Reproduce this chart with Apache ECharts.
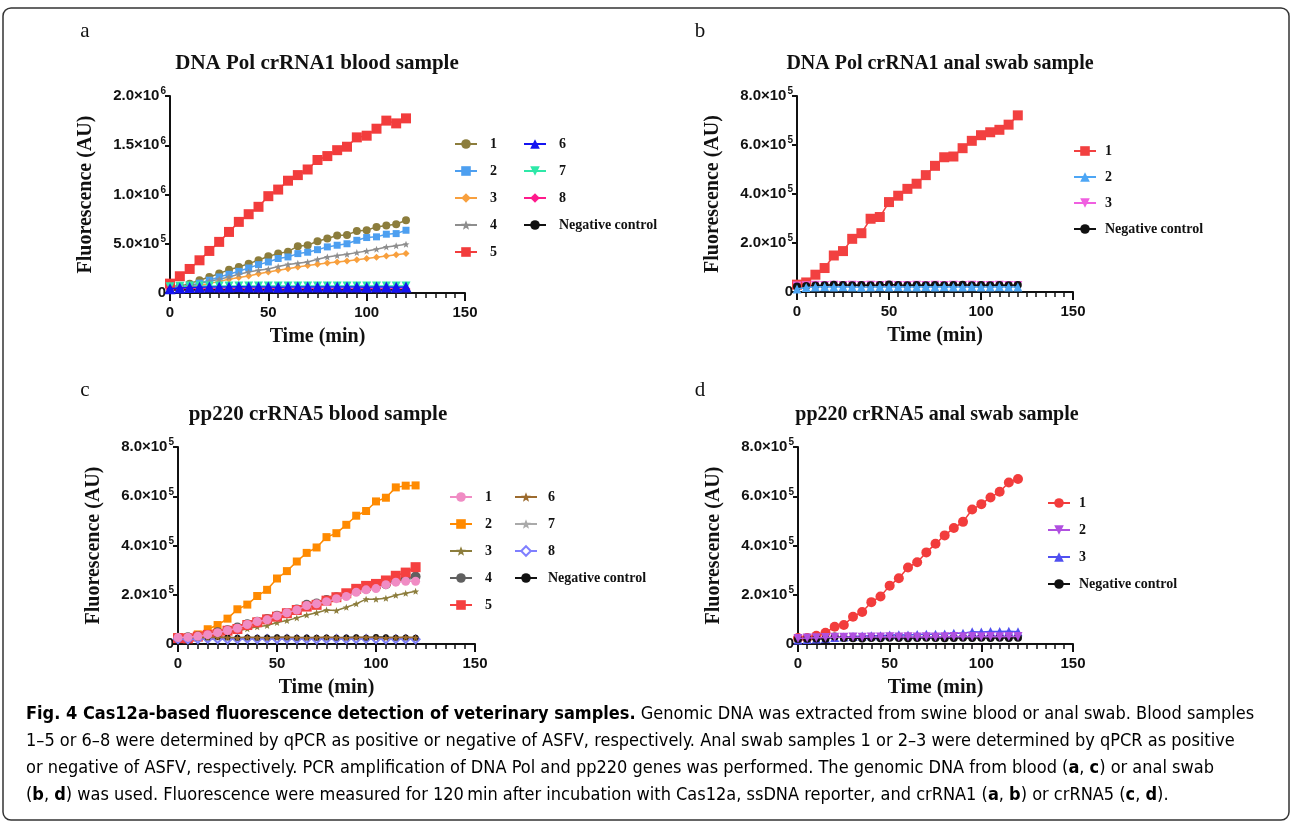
<!DOCTYPE html>
<html>
<head>
<meta charset="utf-8">
<script src="https://cdn.jsdelivr.net/npm/echarts@6/dist/echarts.min.js"></script>
<style>
  html, body { margin: 0; padding: 0; background: #fff; }
  #fig { width: 1292px; height: 828px; }
</style>
</head>
<body>
<div id="fig"></div>
<script>
// time points (min)
const timeMin = [0, 5, 10, 15, 20, 25, 30, 35, 40, 45, 50, 55, 60, 65, 70, 75, 80, 85, 90, 95, 100, 105, 110, 115, 120];

// panel a: DNA Pol crRNA1 blood sample
const aNames = ['1', '2', '3', '4', '5', '6', '7', '8', 'Negative control'];
const a1 = [68000, 70000, 95000, 130000, 163000, 197000, 237000, 264000, 298000, 332000, 373000, 400000, 420000, 475000, 485000, 525000, 553000, 583000, 590000, 630000, 637000, 671000, 685000, 698000, 739000];
const a2 = [44000, 60000, 78000, 100000, 130000, 163000, 190000, 220000, 254000, 288000, 315000, 350000, 366000, 400000, 414000, 440000, 468000, 485000, 500000, 535000, 563000, 570000, 597000, 603000, 637000];
const a3 = [27000, 44000, 60000, 78000, 95000, 118000, 140000, 157000, 173000, 195000, 214000, 230000, 247000, 265000, 280000, 292000, 305000, 315000, 325000, 338000, 350000, 362000, 376000, 388000, 400000];
const a4 = [34000, 52000, 70000, 95000, 119000, 140000, 163000, 190000, 214000, 230000, 244000, 268000, 290000, 302000, 315000, 342000, 366000, 380000, 393000, 410000, 427000, 445000, 468000, 480000, 495000];
const a5 = [95000, 170000, 244000, 332000, 427000, 519000, 620000, 722000, 800000, 875000, 983000, 1050000, 1140000, 1197000, 1254000, 1350000, 1390000, 1450000, 1485000, 1580000, 1597000, 1668000, 1750000, 1722000, 1773000];
const a6 = [42000, 50000, 55000, 58000, 60000, 62000, 61000, 63000, 60000, 61000, 60000, 59000, 60000, 62000, 61000, 60000, 62000, 60000, 61000, 60000, 59000, 60000, 60000, 59000, 60000];
const a7 = [64000, 68000, 70000, 71000, 72000, 72000, 71000, 72000, 71000, 70000, 72000, 71000, 70000, 71000, 72000, 71000, 70000, 71000, 72000, 70000, 71000, 70000, 71000, 70000, 71000];
const a8 = [38000, 40000, 42000, 41000, 42000, 40000, 41000, 42000, 41000, 40000, 42000, 41000, 40000, 41000, 42000, 41000, 40000, 41000, 40000, 41000, 42000, 40000, 41000, 40000, 41000];
const aNeg = [30000, 31000, 32000, 31000, 30000, 32000, 31000, 30000, 31000, 32000, 31000, 30000, 31000, 30000, 32000, 31000, 30000, 31000, 32000, 30000, 31000, 30000, 31000, 32000, 31000];

// panel b: DNA Pol crRNA1 anal swab sample
const bNames = ['1', '2', '3', 'Negative control'];
const b1 = [30000, 39000, 70600, 97800, 149000, 167000, 217000, 240000, 299000, 306000, 367000, 393000, 421000, 442000, 477000, 515000, 550000, 553000, 587000, 617000, 640000, 652000, 662000, 683000, 721000];
const b2 = [12000, 18000, 20000, 21000, 20000, 21000, 20000, 19000, 20000, 21000, 20000, 21000, 20000, 20000, 21000, 20000, 21000, 20000, 20000, 21000, 20000, 20000, 21000, 20000, 20000];
const b3 = [24000, 26000, 28000, 27000, 28000, 27000, 28000, 27000, 28000, 27000, 28000, 27000, 27000, 28000, 27000, 28000, 27000, 28000, 27000, 28000, 27000, 27000, 28000, 27000, 27000];
const bNeg = [22000, 25000, 27000, 28000, 30000, 29000, 28000, 29000, 28000, 29000, 31000, 29000, 28000, 29000, 28000, 29000, 28000, 29000, 30000, 28000, 29000, 28000, 29000, 28000, 29000];

// panel c: pp220 crRNA5 blood sample
const cNames = ['1', '2', '3', '4', '5', '6', '7', '8', 'Negative control'];
const c1 = [26000, 27000, 31000, 38000, 46000, 55000, 64000, 79000, 91000, 98000, 114000, 127000, 138000, 156000, 163000, 172000, 184000, 193000, 210000, 220000, 225000, 241000, 251000, 255000, 255000];
const c2 = [27000, 26000, 39000, 60000, 77000, 103000, 141000, 160000, 195000, 220000, 266000, 296000, 335000, 370000, 392000, 434000, 450000, 484000, 521000, 540000, 579000, 594000, 636000, 643000, 644000];
const c3 = [24000, 25000, 28000, 33000, 39000, 46000, 53000, 62000, 70000, 75000, 87000, 95000, 106000, 118000, 127000, 138000, 136000, 149000, 163000, 182000, 182000, 186000, 198000, 206000, 214000];
const c4 = [25000, 27000, 31000, 37000, 48000, 56000, 67000, 80000, 90000, 102000, 115000, 126000, 140000, 159000, 164000, 179000, 190000, 200000, 218000, 225000, 233000, 243000, 260000, 266000, 274000];
const c5 = [24000, 23000, 30000, 37000, 41000, 54000, 61000, 77000, 88000, 100000, 111000, 125000, 138000, 152000, 159000, 176000, 190000, 206000, 224000, 236000, 244000, 258000, 277000, 290000, 312000];
const c6 = [26000, 27000, 25000, 26000, 27000, 26000, 25000, 27000, 26000, 25000, 26000, 27000, 26000, 25000, 26000, 27000, 26000, 25000, 26000, 27000, 26000, 25000, 26000, 27000, 26000];
const c7 = [22000, 23000, 22000, 21000, 22000, 23000, 22000, 23000, 22000, 21000, 22000, 23000, 22000, 22000, 21000, 22000, 23000, 22000, 22000, 21000, 22000, 23000, 22000, 22000, 21000];
const c8 = [20000, 19000, 20000, 21000, 20000, 19000, 20000, 21000, 20000, 21000, 20000, 21000, 20000, 20000, 19000, 20000, 21000, 20000, 20000, 21000, 20000, 19000, 20000, 20000, 19000];
const cNeg = [25000, 26000, 25000, 26000, 27000, 26000, 25000, 26000, 25000, 26000, 27000, 26000, 25000, 26000, 25000, 26000, 25000, 26000, 27000, 25000, 28000, 27000, 25000, 26000, 25000];

// panel d: pp220 crRNA5 anal swab sample
const dNames = ['1', '2', '3', 'Negative control'];
const d1 = [24000, 24000, 33000, 46000, 70000, 77000, 111000, 130000, 170000, 193000, 237000, 267000, 311000, 332000, 372000, 407000, 441000, 471000, 496000, 546000, 568000, 595000, 618000, 656000, 670000];
const d2 = [22000, 24000, 25000, 26000, 27000, 27000, 28000, 27000, 28000, 28000, 29000, 28000, 29000, 28000, 29000, 28000, 29000, 30000, 29000, 30000, 29000, 30000, 29000, 30000, 30000];
const d3 = [16000, 18000, 20000, 22000, 26000, 28000, 30000, 32000, 34000, 34000, 37000, 38000, 37000, 39000, 40000, 40000, 41000, 44000, 44000, 50000, 49000, 51000, 51000, 52000, 50000];
const dNeg = [20000, 21000, 22000, 21000, 30000, 24000, 23000, 22000, 24000, 23000, 25000, 24000, 23000, 24000, 25000, 24000, 23000, 24000, 25000, 24000, 25000, 24000, 25000, 24000, 25000];

const serif = '"Liberation Serif", "Times New Roman", serif';
const sans = '"Liberation Sans", Arial, sans-serif';
const narrow = '"Liberation Sans Narrow", "DejaVu Sans Condensed", sans-serif';
const star = 'path://M0,-10 L2.6,-3.2 L9.5,-3.1 L4.1,1.3 L5.9,8.1 L0,4.1 L-5.9,8.1 L-4.1,1.3 L-9.5,-3.1 L-2.6,-3.2 Z';

const myChart = echarts.init(document.getElementById('fig'));

function sciLabel(v) {
  if (v === 0) return '{m|0}';
  const e = Math.floor(Math.log10(v) + 1e-9);
  const m = v / Math.pow(10, e);
  return '{m|' + m.toFixed(1) + '×10}{s|' + e + '}';
}

// [left, top, width, height] in px for each panel
const grids = [
  [170, 96, 295, 197],
  [797, 96, 276, 196],
  [178, 447, 297, 197],
  [798, 447, 275, 197]
];
const yMax = [2000000, 800000, 800000, 800000];
const yStep = [500000, 200000, 200000, 200000];

function xAxisFor(i) {
  return {
    type: 'value', gridIndex: i, min: 0, max: 150, interval: 50,
    name: 'Time (min)', nameLocation: 'middle', nameGap: 34,
    nameTextStyle: { fontFamily: serif, fontWeight: 'bold', fontSize: 20, color: '#111' },
    axisLine: { lineStyle: { color: '#111', width: 2 } },
    axisTick: { length: 8, lineStyle: { color: '#111', width: 2 } },
    minorTick: { show: true, splitNumber: 10, length: 5, lineStyle: { color: '#111', width: 1.5 } },
    axisLabel: { fontFamily: sans, fontWeight: 'bold', fontSize: 15, color: '#111', margin: 12 },
    splitLine: { show: false }
  };
}

function yAxisFor(i) {
  return {
    type: 'value', gridIndex: i, min: 0, max: yMax[i], interval: yStep[i],
    name: 'Fluorescence (AU)', nameLocation: 'middle', nameGap: 74,
    nameTextStyle: { fontFamily: serif, fontWeight: 'bold', fontSize: 20, color: '#111' },
    axisLine: { show: true, lineStyle: { color: '#111', width: 2 } },
    axisTick: { show: true, length: 5, lineStyle: { color: '#111', width: 2 } },
    axisLabel: {
      margin: 4, color: '#111',
      formatter: sciLabel,
      rich: {
        m: { fontFamily: sans, fontWeight: 'bold', fontSize: 15, color: '#111' },
        s: { fontFamily: sans, fontWeight: 'bold', fontSize: 10, color: '#111', padding: [0, 0, 9, 1] }
      }
    },
    splitLine: { show: false }
  };
}

function line(panel, name, data, color, symbol, size, extra) {
  return Object.assign({
    name: panel + '|' + name,
    type: 'line',
    xAxisIndex: ['a', 'b', 'c', 'd'].indexOf(panel),
    yAxisIndex: ['a', 'b', 'c', 'd'].indexOf(panel),
    data: timeMin.map((t, k) => [t, data[k]]),
    symbol: symbol,
    symbolSize: size,
    showAllSymbol: true,
    animation: false,
    itemStyle: { color: color, opacity: 1 },
    lineStyle: { color: color, width: 1.5 }
  }, extra || {});
}

const seriesList = [
  line('a', aNames[0], a1, '#8c7d3c', 'circle', 8),
  line('a', aNames[1], a2, '#4d9ff0', 'rect', 7),
  line('a', aNames[2], a3, '#f8a03e', 'diamond', 7),
  line('a', aNames[3], a4, '#8e8e8e', star, 7),
  line('a', aNames[4], a5, '#f23c3c', 'rect', 10),
  line('a', aNames[5], a6, '#1414f0', 'triangle', 11, { z: 4 }),
  line('a', aNames[6], a7, '#2ee8a8', 'triangle', 9, { symbolRotate: 180 }),
  line('a', aNames[7], a8, '#ff1a8c', 'diamond', 9),
  line('a', aNames[8], aNeg, '#111111', 'circle', 6),

  line('b', bNames[0], b1, '#f24040', 'rect', 10),
  line('b', bNames[1], b2, '#4da6f5', 'triangle', 9, { z: 4 }),
  line('b', bNames[2], b3, '#f05fe0', 'triangle', 9, { symbolRotate: 180 }),
  line('b', bNames[3], bNeg, '#111111', 'circle', 8),

  line('c', cNames[0], c1, '#f08cc4', 'circle', 9, { z: 5 }),
  line('c', cNames[1], c2, '#ff8a00', 'rect', 8),
  line('c', cNames[2], c3, '#8c7d3c', star, 7),
  line('c', cNames[3], c4, '#606060', 'circle', 10),
  line('c', cNames[4], c5, '#f54040', 'rect', 10),
  line('c', cNames[5], c6, '#9c6b2e', star, 7, { z: 4 }),
  line('c', cNames[6], c7, '#aaaaaa', star, 6),
  line('c', cNames[7], c8, '#7f7fff', 'emptyDiamond', 8),
  line('c', cNames[8], cNeg, '#111111', 'circle', 6),

  line('d', dNames[0], d1, '#f23c3c', 'circle', 10),
  line('d', dNames[1], d2, '#b050e0', 'triangle', 9, { symbolRotate: 180, z: 4 }),
  line('d', dNames[2], d3, '#5050f0', 'triangle', 9),
  line('d', dNames[3], dNeg, '#111111', 'circle', 8)
];

function legendFor(panel, names, left, top, gap, textPad) {
  return {
    left: left, top: top, orient: 'vertical', padding: 0,
    itemWidth: 22, itemHeight: 12, itemGap: gap,
    selectedMode: false,
    data: names.map(n => panel + '|' + n),
    formatter: name => name.split('|')[1],
    textStyle: { fontFamily: serif, fontWeight: 'bold', fontSize: 14, color: '#111', padding: [0, 0, 0, textPad] }
  };
}

function txt(x, y, text, font, size, weight, align) {
  return {
    type: 'text', x: x, y: y,
    style: { text: text, fontFamily: font, fontSize: size, fontWeight: weight || 'normal', fill: '#111', textAlign: align || 'center', textVerticalAlign: 'middle' }
  };
}

const capRich = {
  b: { fontFamily: narrow, fontWeight: 'bold', fontSize: 18, color: '#222' },
  n: { fontFamily: narrow, fontSize: 18, color: '#333' }
};
const capLines = [
  '{b|Fig. 4 Cas12a-based fluorescence detection of veterinary samples.}{n| Genomic DNA was extracted from swine blood or anal swab. Blood samples}',
  '{n|1–5 or 6–8 were determined by qPCR as positive or negative of ASFV, respectively. Anal swab samples 1 or 2–3 were determined by qPCR as positive}',
  '{n|or negative of ASFV, respectively. PCR amplification of DNA Pol and pp220 genes was performed. The genomic DNA from blood (}{b|a}{n|, }{b|c}{n|) or anal swab}',
  '{n|(}{b|b}{n|, }{b|d}{n|) was used. Fluorescence were measured for 120\u2009min after incubation with Cas12a, ssDNA reporter, and crRNA1 (}{b|a}{n|, }{b|b}{n|) or crRNA5 (}{b|c}{n|, }{b|d}{n|).}'
];
const capY = [714, 741, 768, 795];

const option = {
  animation: false,
  backgroundColor: '#fff',
  grid: grids.map(g => ({ left: g[0], top: g[1], width: g[2], height: g[3], containLabel: false })),
  xAxis: [0, 1, 2, 3].map(xAxisFor),
  yAxis: [0, 1, 2, 3].map(yAxisFor),
  legend: [
    legendFor('a', aNames.slice(0, 5), 454, 137, 13, 8),
    legendFor('a', aNames.slice(5), 523, 137, 13, 8),
    legendFor('b', bNames, 1073, 144, 12, 4),
    legendFor('c', cNames.slice(0, 5), 449, 490, 13, 8),
    legendFor('c', cNames.slice(5), 514, 490, 13, 6),
    legendFor('d', dNames, 1047, 496, 13, 4)
  ],
  graphic: [
    { type: 'rect', shape: { x: 3, y: 8, width: 1286, height: 812, r: 8 }, style: { fill: 'none', stroke: '#333', lineWidth: 1.5 }, silent: true },
    txt(85, 31, 'a', serif, 21),
    txt(700, 31, 'b', serif, 21),
    txt(85, 390, 'c', serif, 21),
    txt(700, 390, 'd', serif, 21),
    txt(317, 64, 'DNA Pol crRNA1 blood sample', serif, 21, 'bold'),
    txt(940, 64, 'DNA Pol crRNA1 anal swab sample', serif, 20, 'bold'),
    txt(318, 415, 'pp220 crRNA5 blood sample', serif, 21, 'bold'),
    txt(937, 415, 'pp220 crRNA5 anal swab sample', serif, 20, 'bold')
  ].concat(capLines.map((l, i) => ({
    type: 'text', x: 26, y: capY[i],
    style: { text: l, rich: capRich, textAlign: 'left', textVerticalAlign: 'middle' }
  }))),
  series: seriesList
};

myChart.setOption(option);
</script>
</body>
</html>
